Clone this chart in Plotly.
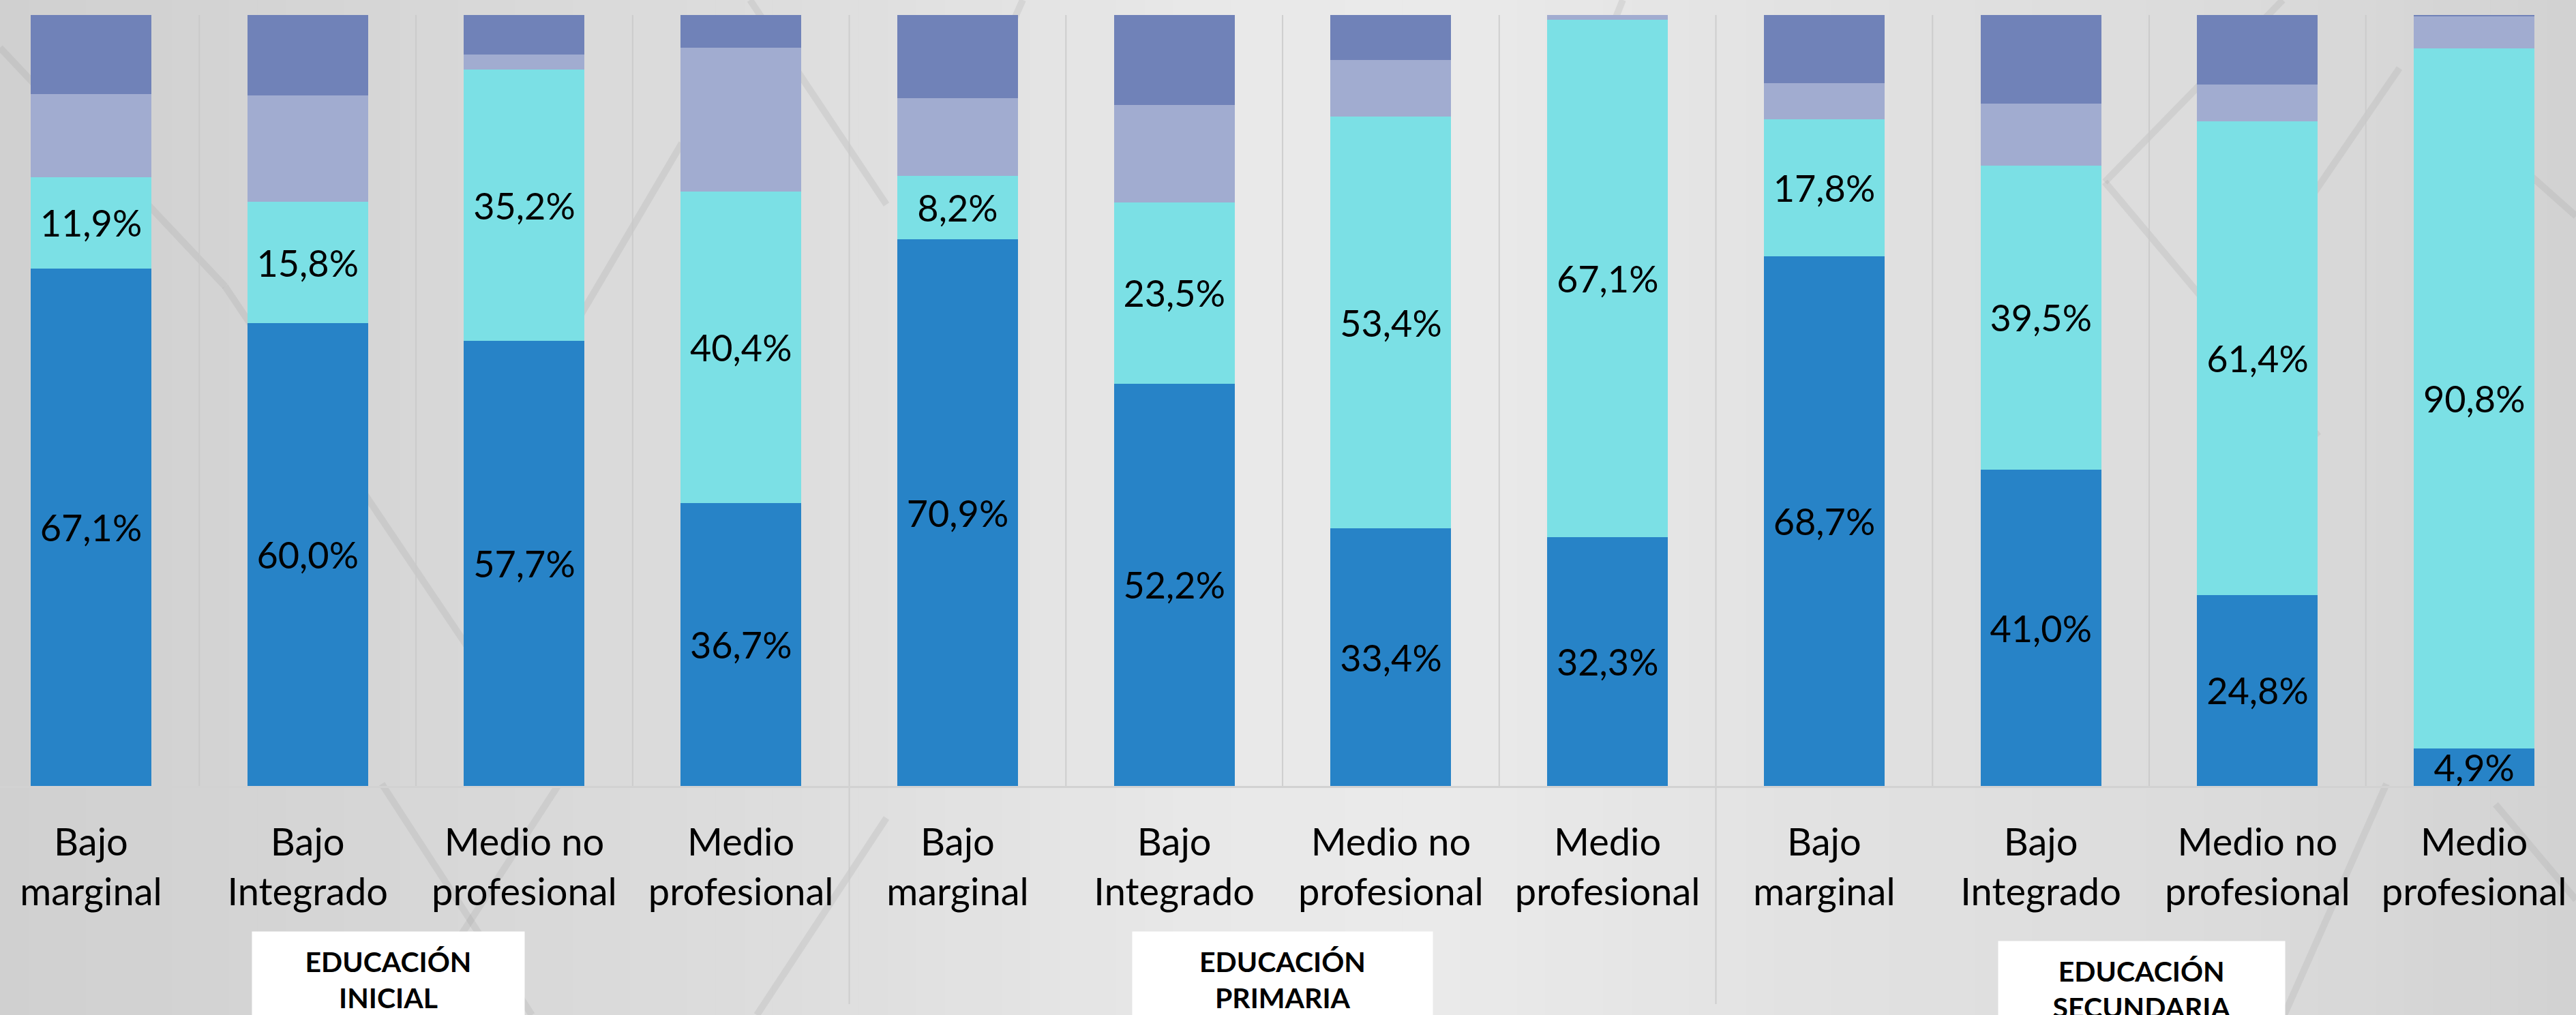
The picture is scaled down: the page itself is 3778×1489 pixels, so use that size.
import plotly.graph_objects as go

# categorias del eje x (tres bloques de cuatro niveles)
niveles = ["Bajo<br>marginal", "Bajo<br>Integrado", "Medio no<br>profesional", "Medio<br>profesional"]
grupos = ["EDUCACIÓN<br>INICIAL", "EDUCACIÓN<br>PRIMARIA", "EDUCACIÓN<br>SECUNDARIA"]
categorias = niveles * len(grupos)

# porcentajes por barra, de abajo hacia arriba
serie_1 = [67.1, 60.0, 57.7, 36.7, 70.9, 52.2, 33.4, 32.3, 68.7, 41.0, 24.8, 4.9]
serie_2 = [11.9, 15.8, 35.2, 40.4, 8.2, 23.5, 53.4, 67.1, 17.8, 39.5, 61.4, 90.8]
serie_3 = [10.7, 13.8, 2.0, 18.7, 10.1, 12.6, 7.4, 0.6, 4.7, 8.0, 4.8, 4.2]
serie_4 = [10.3, 10.4, 5.1, 4.2, 10.8, 11.7, 5.8, 0.0, 8.8, 11.5, 9.0, 0.1]

W, H = 3778, 1489
TOP, BASE = 22, 1153
FONT = "Lato"

x = list(range(len(categorias)))

fig = go.Figure()

series = [
    (serie_1, "#2783c7", True),
    (serie_2, "#7be0e5", True),
    (serie_3, "#a1acd0", False),
    (serie_4, "#7082b8", False),
]
for i, (vals, color, etiqueta) in enumerate(series):
    fig.add_trace(go.Bar(
        x=x,
        y=vals,
        name=f"serie {i + 1}",
        marker=dict(color=color, line=dict(width=0)),
        texttemplate="%{y:.1f}%" if etiqueta else None,
        textposition="inside" if etiqueta else "none",
        insidetextanchor="middle",
        textangle=0,
        constraintext="none",
        textfont=dict(family=FONT, size=54, color="black"),
        hoverinfo="skip",
        showlegend=False,
    ))


def px_a_paper(px, py):
    return px / W, (BASE - py) / (BASE - TOP)


shapes = []

# fondo gris con degradado horizontal
paradas = [(0.0, 208), (0.15, 214), (0.32, 222), (0.48, 233), (0.56, 234), (0.7, 226), (0.85, 220), (1.0, 210)]
n_franjas = 90
for k in range(n_franjas):
    t = (k + 0.5) / n_franjas
    for (a, ga), (b, gb) in zip(paradas[:-1], paradas[1:]):
        if a <= t <= b:
            g = int(round(ga + (gb - ga) * (t - a) / (b - a)))
            break
    shapes.append(dict(type="rect", xref="paper", yref="paper", layer="below",
                       x0=k / n_franjas, x1=(k + 1) / n_franjas + 0.002, y0=-0.4, y1=1.1,
                       fillcolor=f"rgb({g},{g},{g})", line=dict(width=0)))

# trazos diagonales decorativos del fondo
diagonales = [
    ((0, 70), (330, 420)), ((330, 420), (720, 1000)),
    ((560, 1150), (780, 1489)), ((820, 1150), (600, 1489)),
    ((1100, 0), (1300, 300)), ((1000, 210), (700, 720)),
    ((1300, 1200), (1110, 1489)), ((1500, 0), (1420, 180)),
    ((3348, 0), (3087, 267)), ((3087, 267), (3400, 640)),
    ((3519, 100), (3300, 420)), ((3714, 260), (3778, 317)),
    ((3500, 1150), (3350, 1489)), ((3660, 1180), (3778, 1320)),
    ((2380, 0), (2300, 200)),
]
for (x0, y0), (x1, y1) in diagonales:
    a0, b0 = px_a_paper(x0, y0)
    a1, b1 = px_a_paper(x1, y1)
    shapes.append(dict(type="line", xref="paper", yref="paper", layer="below",
                       x0=a0, y0=b0, x1=a1, y1=b1,
                       line=dict(color="rgba(150,150,150,0.18)", width=10)))

# separadores entre categorias y entre bloques
for k in range(len(categorias) - 1):
    borde = (k + 1) % len(niveles) == 0
    shapes.append(dict(type="line", xref="x", yref="paper", layer="below",
                       x0=k + 0.5, x1=k + 0.5, y0=-0.283 if borde else 0, y1=1,
                       line=dict(color="rgba(200,200,200,0.8)", width=2)))

fig.update_layout(shapes=shapes)

# cajas blancas con el nombre de cada bloque
anchos = [383, 424, 404]
desplaz_x = [-41, 0, -11]
desplaz_y = [0, 0, -14]
for g, nombre in enumerate(grupos):
    centro = g * len(niveles) + (len(niveles) - 1) / 2
    fig.add_annotation(
        x=centro, xref="x", y=px_a_paper(0, 1366)[1], yref="paper",
        yanchor="top", xanchor="center",
        text=f"<b>{nombre}</b>", showarrow=False,
        font=dict(family=FONT, size=41, color="black"),
        bgcolor="white", width=anchos[g], height=124, borderpad=8,
        xshift=desplaz_x[g], yshift=desplaz_y[g],
    )

fig.update_layout(
    width=W, height=H,
    margin=dict(l=0, r=0, t=TOP, b=H - BASE),
    barmode="stack",
    bargap=0.443,
    separators=",.",
    paper_bgcolor="#dddddd",
    plot_bgcolor="rgba(0,0,0,0)",
    font=dict(family=FONT, color="black"),
)

fig.update_xaxes(
    range=[-0.42, 11.47],
    tickmode="array", tickvals=x, ticktext=categorias,
    tickfont=dict(family=FONT, size=56, color="black"),
    ticks="outside", ticklen=32, tickcolor="rgba(0,0,0,0)",
    showgrid=False, zeroline=False,
    showline=True, linecolor="#d2d2d2", linewidth=3,
)
fig.update_yaxes(range=[0, 100], visible=False, showgrid=False)

# sin margen del body para que el grafico ocupe toda la ventana
fig.write_html("out.html", config={"displayModeBar": False},
               post_script="document.body.style.margin='0';")
